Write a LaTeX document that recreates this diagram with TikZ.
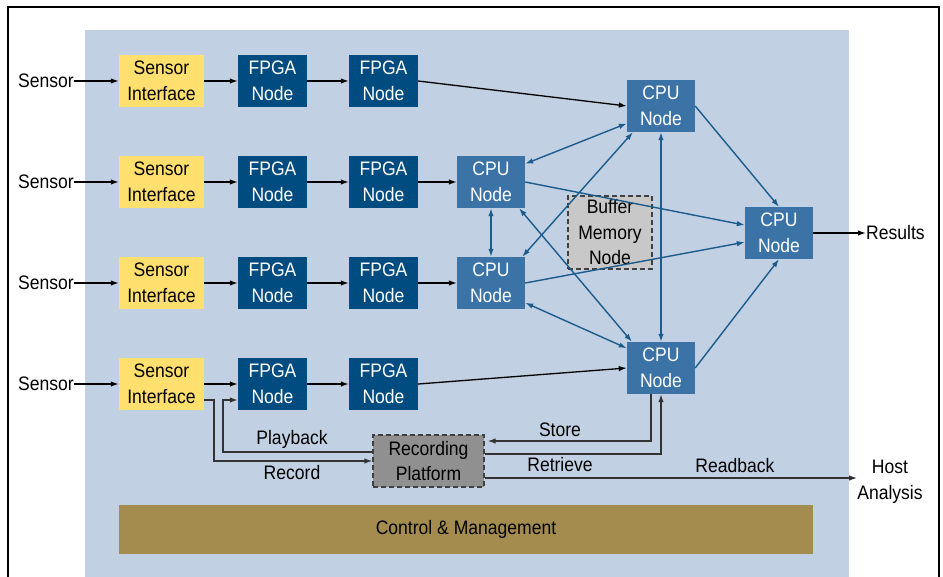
\documentclass[tikz,border=0pt]{standalone}
\usepackage{fontspec}
\setmainfont{Liberation Sans}[FakeStretch=0.9]
\usetikzlibrary{arrows.meta}

\definecolor{panelblue}{HTML}{C1D0E2}
\definecolor{sifill}{HTML}{FFDF6E}
\definecolor{fpgafill}{HTML}{004B7F}
\definecolor{cpufill}{HTML}{3B73A7}
\definecolor{linkblue}{HTML}{1B5C8C}
\definecolor{buffill}{HTML}{C8C8C8}
\definecolor{recfill}{HTML}{909090}
\definecolor{ctrlfill}{HTML}{A38C4D}

\tikzset{
  txt/.style={font=\fontsize{19.5}{25.5}\selectfont, align=center, inner sep=0pt},
  sibox/.style={txt, fill=sifill, minimum width=85pt, minimum height=52pt},
  fpgabox/.style={txt, fill=fpgafill, text=white, minimum width=69pt, minimum height=52pt},
  cpubox/.style={txt, fill=cpufill, text=white, minimum width=68pt, minimum height=52pt},
  blk/.style={draw=black, line width=1.3pt, -{Latex[length=8pt,width=5.5pt]}},
  lnk/.style={draw=linkblue, line width=1.4pt, -{Latex[length=8pt,width=5.5pt]}},
  lnk2/.style={draw=linkblue, line width=1.4pt, {Latex[length=8pt,width=5.5pt]}-{Latex[length=8pt,width=5.5pt]}},
}

\begin{document}
\begin{tikzpicture}[x=1pt, y=-1pt]
\useasboundingbox (0,0) rectangle (943,576);
\clip (0,0) rectangle (943,576);

% frame and background panel
\draw[line width=1.4pt] (8,7) rectangle (939,600);
\fill[panelblue] (85,30) rectangle (849,600);

% four sensor chains
\foreach \r/\y in {a/81, b/182, c/283, d/384} {
  \node[txt, anchor=east] (s\r) at (74,\y) {Sensor};
  \node[sibox] (si\r) at (161.5,\y) {Sensor\\Interface};
  \node[fpgabox] (fa\r) at (272.5,\y) {FPGA\\Node};
  \node[fpgabox] (fb\r) at (383.5,\y) {FPGA\\Node};
  \draw[blk] (s\r) -- (si\r);
  \draw[blk] (si\r) -- (fa\r);
  \draw[blk] (fa\r) -- (fb\r);
}

% processing nodes
\node[cpubox] (cA) at (491,182) {CPU\\Node};
\node[cpubox] (cB) at (491,283) {CPU\\Node};
\node[cpubox] (cC) at (661,106) {CPU\\Node};
\node[cpubox] (cD) at (661,368) {CPU\\Node};
\node[cpubox] (cE) at (779,233) {CPU\\Node};

\node[txt, fill=buffill, draw=black!75, dash pattern=on 5pt off 3pt, line width=1.3pt,
      minimum width=84pt, minimum height=73pt] (buf) at (610,232.5)
      {Buffer\\Memory\\Node};

\node[txt, fill=recfill, draw=black!75, dash pattern=on 5pt off 3pt, line width=1.3pt,
      minimum width=111pt, minimum height=52pt] (rp) at (428.5,461)
      {Recording\\Platform};

\node[txt, fill=ctrlfill, minimum width=694pt, minimum height=49pt] (ctrl) at (466,529.5)
      {Control \& Management};

\node[txt, anchor=west] (res) at (866,233) {Results};
\node[txt] (host) at (890,482) {Host\\Analysis};

% FPGA outputs into the CPU layer
\draw[blk] (fba.east) -- (cC.west);
\draw[blk] (fbb) -- (cA);
\draw[blk] (fbc) -- (cB);
\draw[blk] (fbd.east) -- (cD.west);

% CPU interconnect
\draw[lnk2] (cA.28) -- (cC.207);
\draw[lnk2] (cB.40) -- (cC.223);
\draw[lnk2] (cC.south) -- (cD.north);
\draw[lnk2] (cA.south) -- (cB.north);
\draw[lnk2] (cA.-43) -- (cD.138);
\draw[lnk2] (cB.-30) -- (cD.150);
\draw[lnk] (cA.east) -- (cE.167);
\draw[lnk] (cB.east) -- (cE.195);
\draw[lnk] (cC.east) -- (cE.north);
\draw[lnk] (cD.east) -- (cE.south);

\draw[blk] (cE) -- (res);

% recording paths
\coordinate (stA) at ([xshift=-10pt]cD.south);
\coordinate (stB) at ([yshift=20pt]rp.east);
\draw[blk, draw=black!80] (stA) |- ([xshift=3pt]stB);

\coordinate (rtA) at ([yshift=7pt]rp.east);
\draw[blk, draw=black!80] (rtA) -| (cD.south);

\coordinate (rbA) at ([yshift=-17pt]rp.east);
\draw[blk, draw=black!80] (rbA) -- (rbA -| host.west);

\coordinate (pbA) at ([yshift=9pt]rp.west);
\coordinate (pbB) at ([yshift=-16pt]fad.west);
\coordinate (pbT) at (223,400);
\draw[blk, draw=black!80] (pbA) -| (pbT) -- (pbB);

\coordinate (rcA) at ([yshift=-16pt]sid.east);
\coordinate (rcT) at (214,400);
\draw[blk, draw=black!80] (rcA) -- (rcT) |- (rp.west);

% path labels
\node[txt] (lpb) at (292,439) {Playback};
\node[txt] (lrc) at (292,473) {Record};
\node[txt] (lst) at (560,430) {Store};
\node[txt] (lrt) at (560,465) {Retrieve};
\node[txt] (lrb) at (735,466) {Readback};
\end{tikzpicture}
\end{document}
